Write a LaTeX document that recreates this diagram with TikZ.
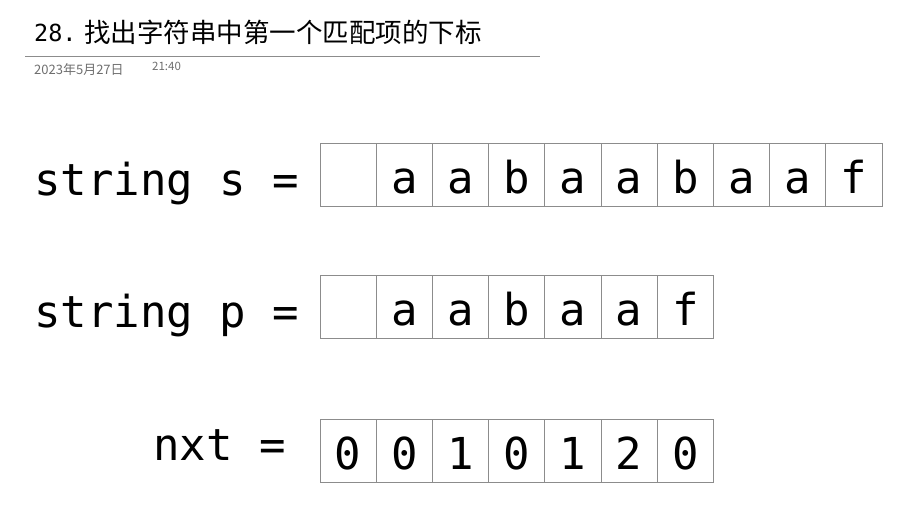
\documentclass[tikz,border=0pt]{standalone}
\usepackage{fontspec}
\usepackage{xcolor}
\usepackage{tikz}
\usetikzlibrary{positioning}
\setmonofont{DejaVu Sans Mono}
\newfontfamily\cjkfont{Noto Sans CJK SC}
\definecolor{gridgray}{HTML}{8C8C8C}
\definecolor{dategray}{HTML}{6E6E6E}

\begin{document}
\begin{tikzpicture}[
  x=1pt, y=1pt,
  cell/.style = {
    rectangle, draw=gridgray, line width=0.9pt,
    minimum width=56.2pt, minimum height=63pt, inner sep=0pt,
    text height=45pt, text depth=8pt,
    font=\fontsize{44}{44}\selectfont\ttfamily
  },
  rowlabel/.style = {
    anchor=base west, inner sep=0pt,
    font=\fontsize{44}{44}\selectfont\ttfamily
  },
  stamp/.style = {
    anchor=base west, inner sep=0pt, text=dategray,
    font=\fontsize{13}{13}\selectfont\cjkfont
  }
]
  \useasboundingbox (0,0) rectangle (915,-514);

  % header
  \node[anchor=base west, inner sep=0pt,
    font=\fontsize{23.5}{23.5}\selectfont\ttfamily] (num) at (34,-41) {28.};
  \node[anchor=base west, inner sep=0pt,
    font=\fontsize{26.5}{26.5}\selectfont\cjkfont] (title) at (84,-42)
    {找出字符串中第一个匹配项的下标};
  \coordinate (rulel) at (25,-56);
  \coordinate (ruler) at (540,-56);
  \draw[gridgray, line width=0.8pt] (rulel) -- (ruler);
  \node[stamp] (date) at (34,-74) {2023年5月27日};
  \node[stamp, font=\fontsize{11.5}{11.5}\selectfont\cjkfont] (time) at (152,-70) {21:40};

  % string s
  \node[rowlabel] (slabel) at (34,-195) {string s =};
  \foreach \c [count=\i from 0] in {{},a,a,b,a,a,b,a,a,f}
    \node[cell] (s\i) at (348.1+56.2*\i,-174.5) {\c};

  % string p
  \node[rowlabel] (plabel) at (34,-327) {string p =};
  \foreach \c [count=\i from 0] in {{},a,a,b,a,a,f}
    \node[cell] (p\i) at (348.1+56.2*\i,-306.5) {\c};

  % nxt
  \node[rowlabel] (nlabel) at (153,-460) {nxt =};
  \foreach \c [count=\i from 0] in {0,0,1,0,1,2,0}
    \node[cell] (n\i) at (348.1+56.2*\i,-450.5) {\c};
\end{tikzpicture}
\end{document}
